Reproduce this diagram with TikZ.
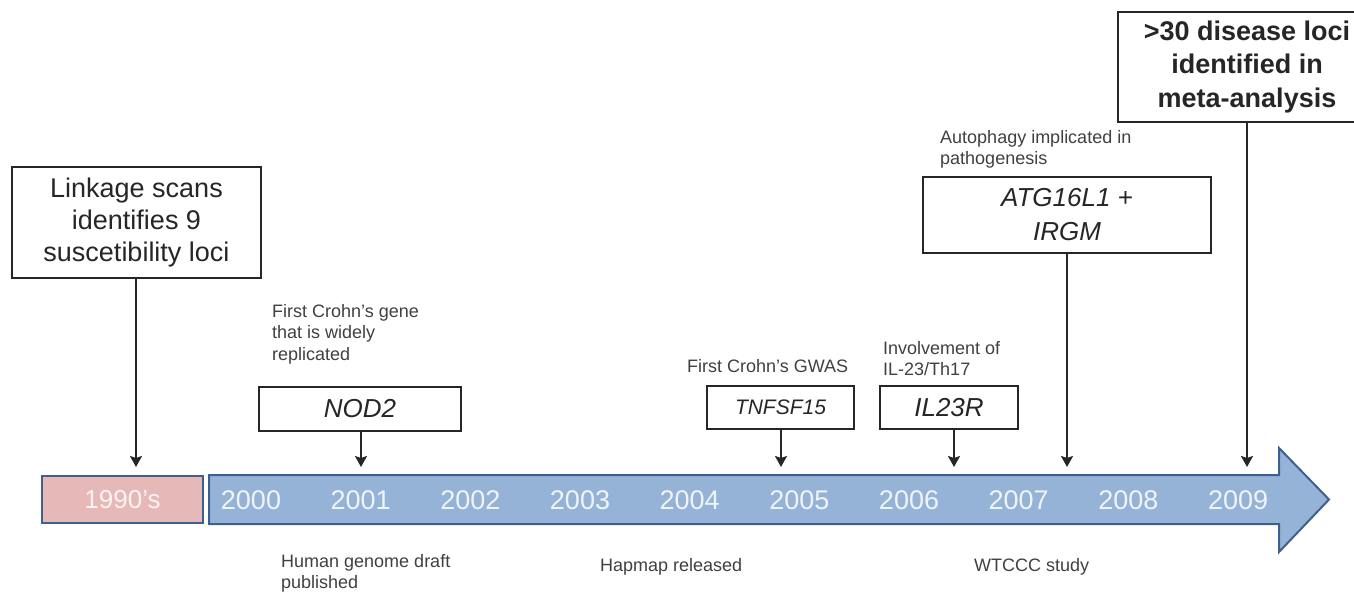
\documentclass[tikz,border=0pt]{standalone}
\usepackage{fontspec}
\setmainfont{Liberation Sans}
\usepackage{tikz}
\usetikzlibrary{arrows.meta}
\definecolor{pinkfill}{RGB}{230, 185, 184}
\definecolor{bandblue}{RGB}{149, 179, 215}
\definecolor{bandedge}{RGB}{62, 96, 145}
\definecolor{boxline}{RGB}{38, 38, 38}
\definecolor{boxtext}{RGB}{38, 38, 38}
\definecolor{notetext}{RGB}{64, 64, 64}

\begin{document}
\begin{tikzpicture}[x=1pt, y=-1pt,
        eventbox/.style={draw=boxline, line width=2.5pt, fill=white, text=boxtext, inner sep=0pt, align=center, font=\fontsize{27}{32}\selectfont},
        genebox/.style={eventbox, font=\fontsize{26}{34}\selectfont\itshape},
        note/.style={text=notetext, align=left, inner sep=0pt, anchor=west, font=\fontsize{18}{21.5}\selectfont},
        yearlabel/.style={text=white!85!bandblue, inner sep=0pt, font=\fontsize{27}{32}\selectfont},
        hitarrow/.style={draw=boxline, line width=2pt, -{Stealth[length=11pt, width=12pt, inset=2pt]}}]
            \pgfmathsetmacro{\bandTop}{475}
            \pgfmathsetmacro{\bandBottom}{524}
            \pgfmathsetmacro{\tipRow}{467}
            \pgfmathsetmacro{\yearStep}{109.67}

            % page size, the big box on the right runs off the edge
            \useasboundingbox (0, 0) rectangle (1354, 593);
            \clip (0, 0) rectangle (1354, 593);

            % the 1990's box and the timeline arrow
            \node[draw=bandedge, line width=2pt, fill=pinkfill, minimum width=161, minimum height=47, inner sep=0pt, text=white!82!pinkfill, font=\fontsize{26}{32}\selectfont] (y1990) at (122.5, 499.5) {1990's};
            \draw[draw=bandedge, line width=2pt, fill=bandblue] (209, \bandTop) -- (1279, \bandTop) -- (1279, 448) -- (1329, 499.5) -- (1279, 552) -- (1279, \bandBottom) -- (209, \bandBottom) -- cycle;

            % year labels along the arrow
            \foreach \i in {0, ..., 9}
            \node[yearlabel] (y200\i) at (251 + \yearStep*\i, 500) {200\i};

            % boxes for the findings
            \node[eventbox, minimum width=249, minimum height=111] (linkage) at (136.5, 222.5) {Linkage scans\\identifies 9\\suscetibility loci};
            \node[genebox, minimum width=202, minimum height=44] (nod2) at (360, 409) {NOD2};
            \node[genebox, minimum width=147, minimum height=43, font=\fontsize{21}{25}\selectfont\itshape] (tnfsf15) at (780.5, 407.5) {TNFSF15};
            \node[genebox, minimum width=138, minimum height=43] (il23r) at (949, 407.5) {IL23R};
            \node[genebox, minimum width=288, minimum height=76] (atg) at (1067, 215) {ATG16L1 +\\IRGM};
            \node[eventbox, minimum width=258, minimum height=110, font=\fontsize{27}{33.5}\selectfont\bfseries] (meta) at (1247, 67) {>30 disease loci\\identified in\\meta-analysis};

            % notes above and below
            \node[note] (nod2note) at (272, 334) {First Crohn's gene\\that is widely\\replicated};
            \node[note] (tnfnote) at (687, 366) {First Crohn's GWAS};
            \node[note] (il23rnote) at (883, 358.5) {Involvement of\\IL-23/Th17};
            \node[note] (atgnote) at (940, 149.5) {Autophagy implicated in\\pathogenesis};
            \node[note] (genomenote) at (281, 573.5) {Human genome draft\\published};
            \node[note] (hapmapnote) at (600, 567) {Hapmap released};
            \node[note] (wtcccnote) at (974, 567) {WTCCC study};

            % where the arrows hit the timeline
            \coordinate (linkage-hit) at (136, \tipRow);
            \coordinate (nod2-hit) at (361, \tipRow);
            \coordinate (tnfsf15-hit) at (781, \tipRow);
            \coordinate (il23r-hit) at (954, \tipRow);
            \coordinate (atg-hit) at (1067, \tipRow);
            \coordinate (meta-hit) at (1247, \tipRow);

            \foreach \b in {linkage, nod2, tnfsf15, il23r, atg, meta}
            \draw[hitarrow] (\b.south -| \b-hit) -- (\b-hit);

        \end{tikzpicture}
\end{document}
